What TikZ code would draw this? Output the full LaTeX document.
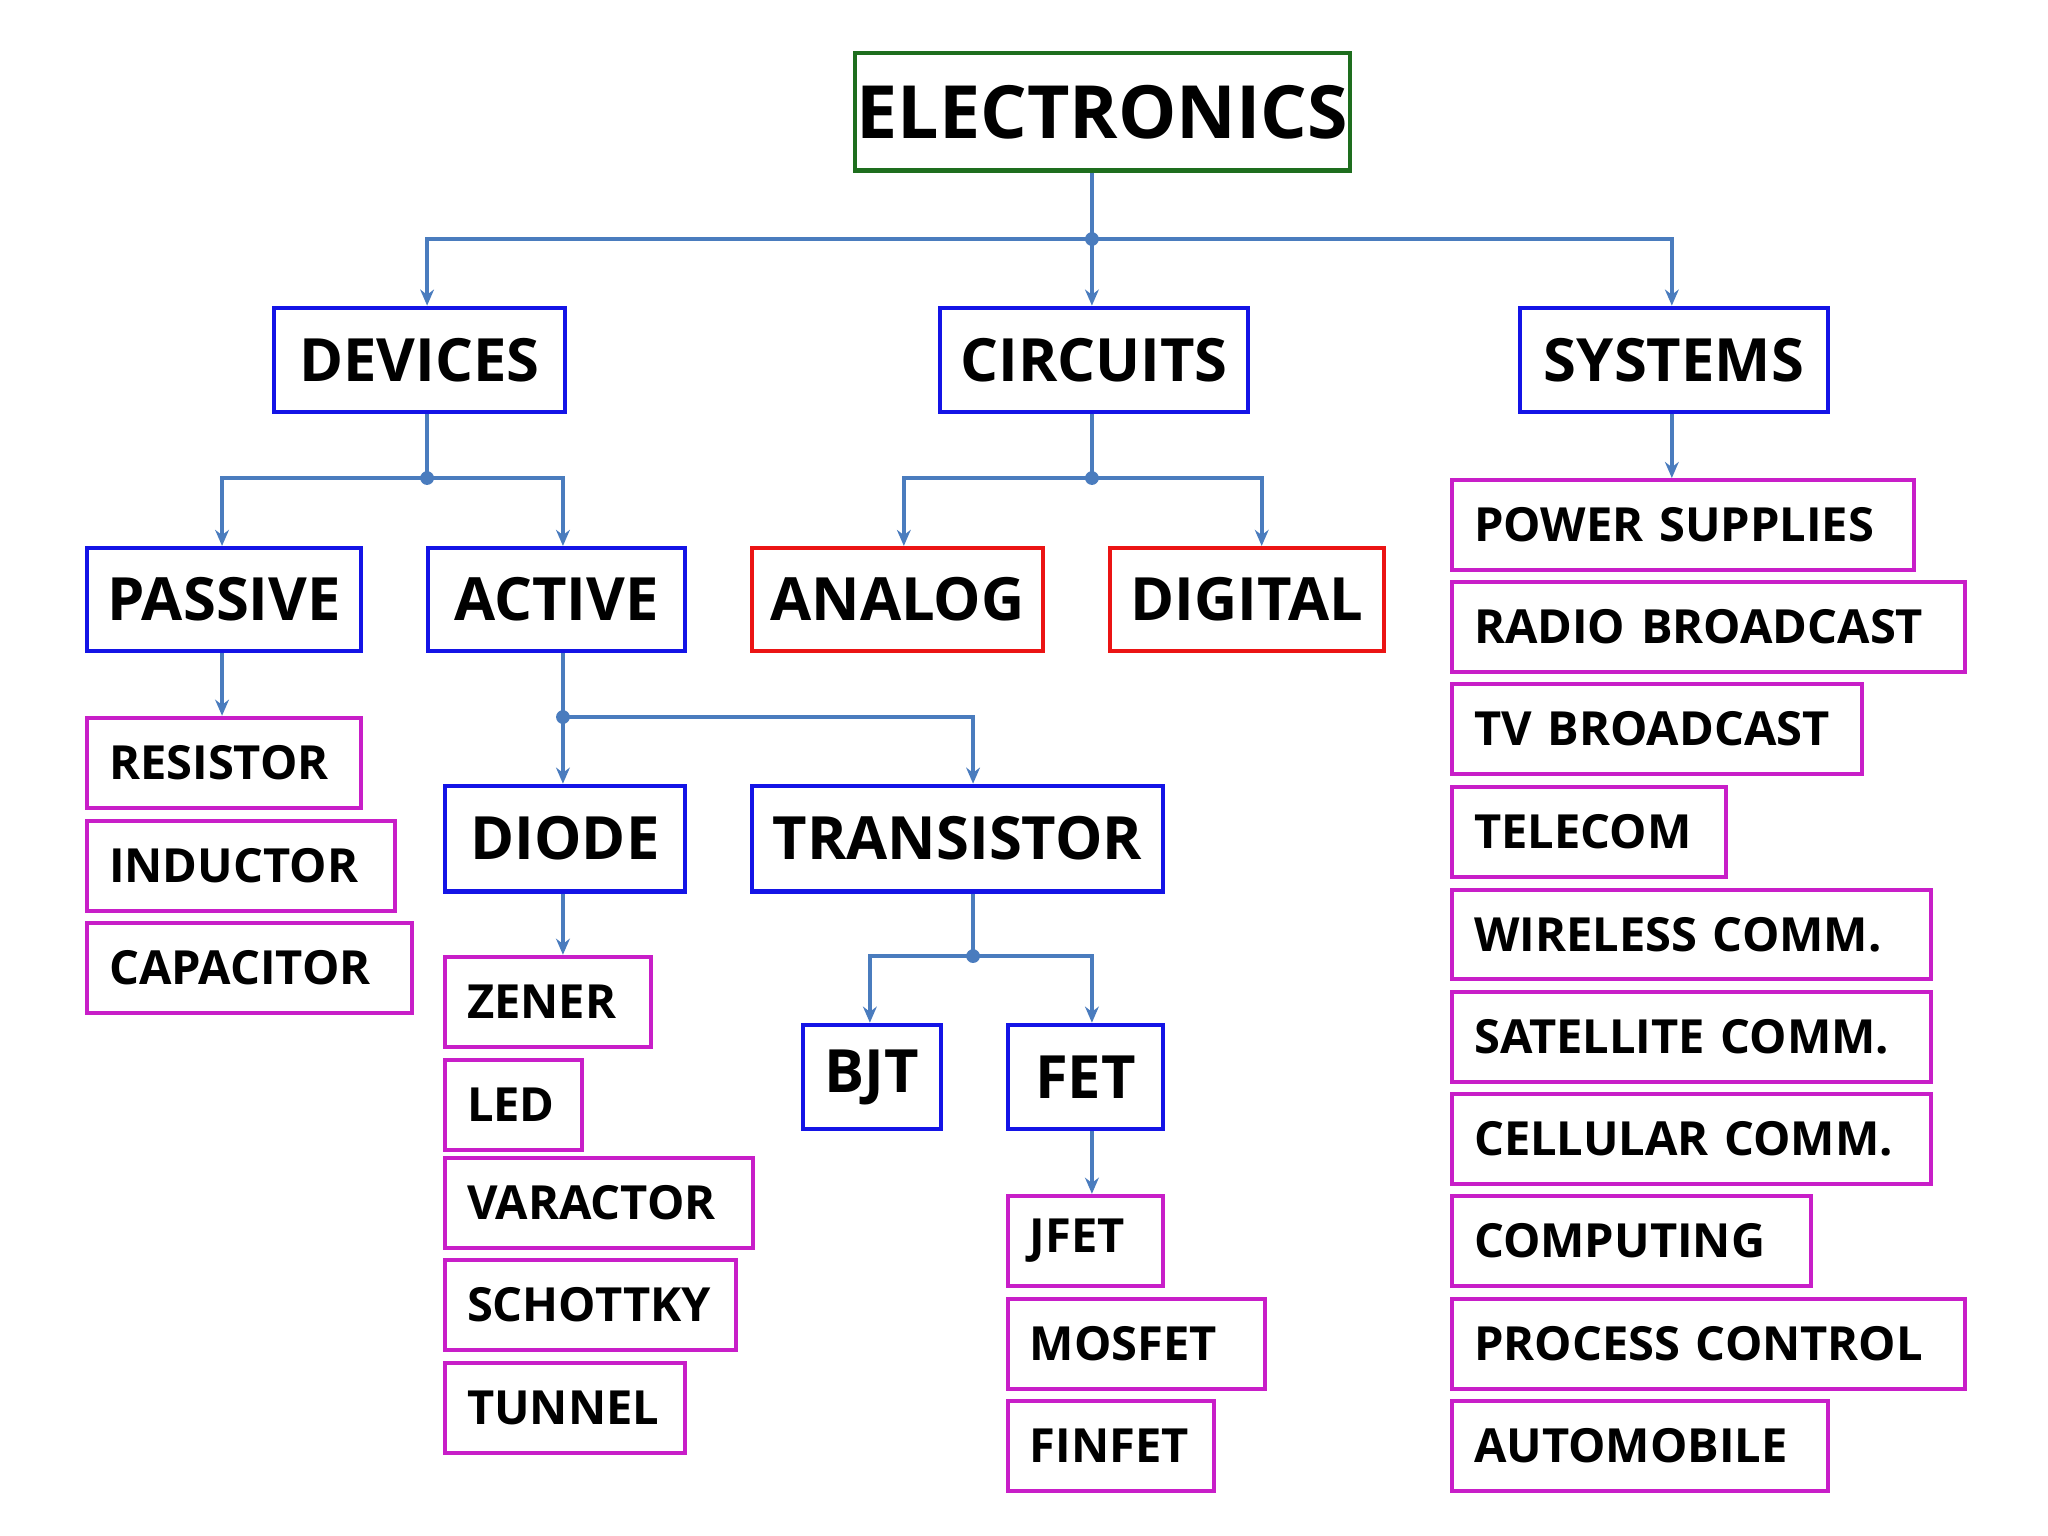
\documentclass[tikz,border=0pt]{standalone}
\usepackage{fontspec}
\setmainfont{Open Sans}
\usetikzlibrary{arrows.meta}
\definecolor{ln}{RGB}{74,124,190}
\definecolor{gr}{RGB}{30,110,30}
\definecolor{bl}{RGB}{20,20,230}
\definecolor{rd}{RGB}{235,20,20}
\definecolor{mg}{RGB}{200,30,200}
\tikzset{
 box/.style={draw,line width=1.8pt,inner sep=0pt,font=\bfseries},
 big/.style={box,draw=gr,font=\fontsize{32}{36}\selectfont\bfseries},
 mid/.style={box,draw=bl,font=\fontsize{26}{30}\selectfont\bfseries},
 red/.style={box,draw=rd,font=\fontsize{26}{30}\selectfont\bfseries},
 sm/.style={box,draw=mg,font=\fontsize{20.5}{24}\selectfont\bfseries,align=left},
 con/.style={draw=ln,line width=1.7pt},
 arr/.style={con,-{Stealth[length=7pt,width=6pt]}},
 dot/.style={circle,fill=ln,inner sep=0pt,minimum size=6pt}
}
\newcommand\bx[7]{\node[#6,minimum width={(#4-#2)*0.02cm},minimum height={(#5-#3)*0.02cm},anchor=north west] (#1) at (#2,#3) {#7};}
\newcommand\mb[6]{\node[sm,minimum width={(#4-#2)*0.02cm},minimum height={(#5-#3)*0.02cm},text width={(#4-#2)*0.02cm-34*0.02cm},anchor=north west] (#1) at (#2,#3) {#6};}
\begin{document}
\begin{tikzpicture}[x=0.02cm,y=-0.02cm]
\useasboundingbox[fill=white] (0,0) rectangle (1568,1176);
\bx{elec}{653}{39}{1032}{129}{big}{ELECTRONICS}
\bx{dev}{208}{234}{431}{314}{mid}{DEVICES}
\bx{cir}{718}{234}{954}{314}{mid}{CIRCUITS}
\bx{sys}{1162}{234}{1398}{314}{mid}{SYSTEMS}
\bx{pas}{65}{418}{275}{497}{mid}{PASSIVE}
\bx{act}{326}{418}{523}{497}{mid}{ACTIVE}
\bx{ana}{574}{418}{797}{497}{red}{ANALOG}
\bx{dig}{848}{418}{1058}{497}{red}{DIGITAL}
\bx{dio}{339}{600}{523}{681}{mid}{DIODE}
\bx{tra}{574}{600}{889}{681}{mid}{TRANSISTOR}
\bx{bjt}{613}{783}{719}{863}{mid}{BJT}
\bx{fet}{770}{783}{889}{863}{mid}{FET}
\mb{res}{65}{548}{275}{617}{RESISTOR}
\mb{ind}{65}{627}{301}{696}{INDUCTOR}
\mb{cap}{65}{705}{314}{774}{CAPACITOR}
\mb{zen}{339}{731}{497}{800}{ZENER}
\mb{led}{339}{810}{444}{879}{LED}
\mb{var}{339}{885}{575}{954}{VARACTOR}
\mb{sch}{339}{963}{562}{1032}{SCHOTTKY}
\mb{tun}{339}{1042}{523}{1111}{TUNNEL}
\mb{jfet}{770}{914}{889}{983}{JFET}
\mb{mos}{770}{993}{967}{1062}{MOSFET}
\mb{fin}{770}{1071}{928}{1140}{FINFET}
\mb{s1}{1110}{366}{1464}{435}{POWER SUPPLIES}
\mb{s2}{1110}{444}{1503}{513}{RADIO BROADCAST}
\mb{s3}{1110}{522}{1424}{591}{TV BROADCAST}
\mb{s4}{1110}{601}{1320}{670}{TELECOM}
\mb{s5}{1110}{680}{1477}{748}{WIRELESS COMM.}
\mb{s6}{1110}{758}{1477}{827}{SATELLITE COMM.}
\mb{s7}{1110}{836}{1477}{905}{CELLULAR COMM.}
\mb{s8}{1110}{914}{1385}{983}{COMPUTING}
\mb{s9}{1110}{993}{1503}{1062}{PROCESS CONTROL}
\mb{s10}{1110}{1071}{1398}{1140}{AUTOMOBILE}
% junctions
\coordinate (j1) at (836,183);
\coordinate (j2) at (327,366);
\coordinate (j3) at (836,366);
\coordinate (j4) at (431,549);
\coordinate (j5) at (745,732);
\draw[con] (elec.south-|j1) -- (j1);
\draw[arr] (j1) -| (dev.north-|j2);
\draw[arr] (j1) -- (cir.north-|j1);
\draw[arr] (j1) -| (sys.north-|1280,0);
\draw[con] (dev.south-|j2) -- (j2);
\draw[arr] (j2) -| (pas.north-|170,0);
\draw[arr] (j2) -| (act.north-|j4);
\draw[con] (cir.south-|j3) -- (j3);
\draw[arr] (j3) -| (ana.north-|692,0);
\draw[arr] (j3) -| (dig.north-|966,0);
\draw[arr] (sys.south-|1280,0) -- (s1.north-|1280,0);
\draw[arr] (pas.south-|170,0) -- (res.north-|170,0);
\draw[con] (act.south-|j4) -- (j4);
\draw[arr] (j4) -- (dio.north-|j4);
\draw[arr] (j4) -| (tra.north-|j5);
\draw[arr] (dio.south-|j4) -- (zen.north-|j4);
\draw[con] (tra.south-|j5) -- (j5);
\draw[arr] (j5) -| (bjt.north-|666,0);
\draw[arr] (j5) -| (fet.north-|836,0);
\draw[arr] (fet.south-|836,0) -- (jfet.north-|836,0);
\foreach \j in {j1,j2,j3,j4,j5} \node[dot] at (\j) {};
\end{tikzpicture}
\end{document}
